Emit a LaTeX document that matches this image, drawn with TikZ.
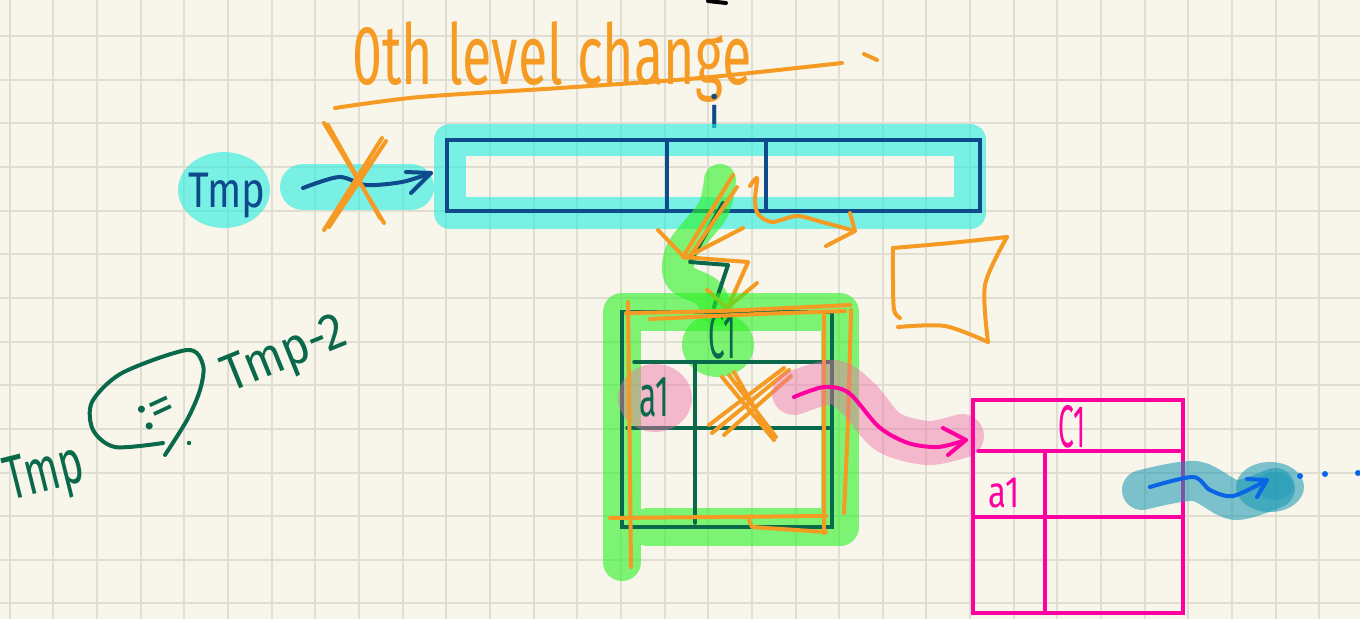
\documentclass[tikz,border=0pt]{standalone}
\usepackage{fontspec}
\setmainfont{Fira Sans}
\usetikzlibrary{arrows.meta}
\definecolor{paper}{RGB}{248,246,235}
\definecolor{gridline}{RGB}{224,222,210}
\definecolor{inkorange}{RGB}{245,155,35}
\definecolor{inknavy}{RGB}{14,74,140}
\definecolor{inkgreen}{RGB}{10,105,75}
\definecolor{inkmagenta}{RGB}{255,0,160}
\definecolor{inkblue}{RGB}{10,100,230}
\definecolor{hlcyan}{RGB}{35,236,224}
\definecolor{hlgreen}{RGB}{43,242,35}
\definecolor{hlpink}{RGB}{240,110,170}
\definecolor{hlteal}{RGB}{20,150,180}
\newcommand\handtext[3]{\fontsize{#1}{#1}\selectfont\scalebox{#2}[1]{#3}}
\tikzset{
  pen/.style={line width=4pt, line cap=round, line join=round},
  tablepen/.style={line width=3.5pt, line cap=round, line join=round},
  marker/.style={line width=#1, line cap=round, line join=round, draw opacity=0.6},
  blob/.style={fill opacity=0.6},
  label/.style={inner sep=0pt, outer sep=0pt},
}
\begin{document}
\begin{tikzpicture}[x=1pt,y=-1pt]
% paper and squared grid
\fill[paper] (0,0) rectangle (1360,619);
\useasboundingbox (0,0) rectangle (1360,619);
\foreach \k in {0,...,30} \draw[gridline, line width=2pt] ({9.8+43.65*\k},0) -- ({9.8+43.65*\k},619);
\foreach \k in {0,...,13} \draw[gridline, line width=2pt] (0,{36+43.65*\k}) -- (1360,{36+43.65*\k});

% ---------- heading ----------
\draw[pen, black] (708,1) -- (726,3);
\node[label, anchor=base west, text=inkorange] (title) at (352,84) {\handtext{84}{0.64}{0th level change}};
\draw[pen, inkorange] plot[smooth] coordinates {(335,108) (420,97) (560,88) (700,78) (842,63)};
\draw[pen, inkorange] (864,54) -- (877,60);
\node[label, anchor=base, text=inknavy] (idx) at (715,128) {\handtext{44}{1}{i}};

% ---------- top array ----------
\draw[marker=32pt, hlcyan] (450,140) -- (970,140) -- (970,213) -- (450,213) -- cycle;
\fill[hlcyan, blob] (224,190) ellipse [x radius=46, y radius=38];
\draw[marker=46pt, hlcyan] (303,187) -- (411,187);
\node[label, anchor=north west, draw=inknavy, line width=4pt, minimum width=533pt, minimum height=71pt] (arr) at (447,140) {};
\draw[line width=4pt, inknavy] (667,140) -- (667,211);
\draw[line width=4pt, inknavy] (766,140) -- (766,211);
\node[label, anchor=base west, text=inknavy] (tmp) at (188,207) {\handtext{50}{0.8}{Tmp}};
\coordinate (tmptip) at (431,173);
\draw[pen, inknavy] plot[smooth] coordinates {(303,188) (339,177) (366,185) (402,182) (431,173)};
\draw[pen, inknavy] (406,172) -- (tmptip) -- (411,193);
% crossed-out pointer
\draw[pen, inkorange] (324,123) -- (384,223) (328,125) -- (380,218);
\draw[pen, inkorange] (382,138) -- (324,230) (386,141) -- (329,227);

% ---------- link from cell i down to the record ----------
\draw[marker=32pt, hlgreen] plot[smooth] coordinates {(720,180) (713,210) (682,250) (680,277) (707,292) (717,310)};
\draw[pen, inkgreen] (723,203) -- (690,262) -- (728,265) -- (714,307);
\draw[pen, inkorange] (733,175) -- (683,257) -- (748,262) -- (728,307);
\draw[pen, inkorange] (737,187) -- (690,256);
\draw[pen, inkorange] (658,230) -- (685,258) -- (743,228);
\draw[pen, inkorange] (757,283) -- (727,308) -- (707,290);
% redirected pointer to a fresh box
\coordinate (newtip) at (855,231);
\draw[pen, inkorange] plot[smooth] coordinates {(750,186) (757,178) (755,200) (758,214) (772,222) (797,216) (822,222) (855,231)};
\draw[pen, inkorange] (850,213) -- (newtip) -- (826,246);
\draw[pen, inkorange] plot[smooth] coordinates {(900,318) (894,310) (893,280) (893,248)};
\draw[pen, inkorange] plot[smooth] coordinates {(893,248) (950,243) (1007,237)};
\draw[pen, inkorange] plot[smooth] coordinates {(1007,237) (985,285) (988,342)};
\draw[pen, inkorange] plot[smooth] coordinates {(988,342) (945,326) (898,327)};

% ---------- green record ----------
\draw[marker=38pt, hlgreen] (622,562) -- (622,312) -- (840,312) -- (840,527) -- (648,527);
\fill[hlgreen, blob] (718,345) ellipse [x radius=36, y radius=32];
\node[label, anchor=north west, draw=inkgreen, line width=3.5pt, minimum width=210pt, minimum height=215pt] (rec) at (622,312) {};
\draw[tablepen, inkgreen] (634,362) -- (829,362);
\draw[tablepen, inkgreen] (627,428) -- (829,428);
\draw[tablepen, inkgreen] (695,363) -- (695,523);
\node[label, anchor=base, text=inkgreen] (recC) at (722,358) {\handtext{66}{0.45}{C1}};
\fill[hlpink, fill opacity=0.45] (655,398) ellipse [x radius=37, y radius=34];
\node[label, anchor=base, text=inkgreen] (recA) at (654,416) {\handtext{58}{0.55}{a1}};
% orange trace around the record
\draw[pen, inkorange] (628,302) -- (631,567);
\draw[pen, inkorange] plot[smooth] coordinates {(626,313) (720,311) (850,305)};
\draw[pen, inkorange] plot[smooth] coordinates {(650,319) (760,314) (845,311)};
\draw[pen, inkorange] (824,313) -- (824,533);
\draw[pen, inkorange] plot[smooth] coordinates {(851,310) (848,420) (844,513)};
\draw[pen, inkorange] (610,518) -- (826,516);
\draw[pen, inkorange] (749,520) -- (752,527) -- (826,532);
% crossed-out cell
\draw[pen, inkorange] (722,377) -- (774,440) (729,375) -- (776,437) (734,372) -- (769,433);
\draw[pen, inkorange] (712,433) -- (789,370) (724,435) -- (791,376) (709,425) -- (784,368);

% ---------- copied record ----------
\draw[marker=44pt, hlpink, draw opacity=0.45] plot[smooth] coordinates {(794,393) (834,382) (860,400) (888,432) (928,443) (962,436)};
\coordinate (copytip) at (966,440);
\draw[pen, inkmagenta] plot[smooth] coordinates {(794,397) (824,387) (849,393) (879,427) (908,443) (938,447) (966,440)};
\draw[pen, inkmagenta] (943,428) -- (copytip) -- (948,455);
\node[label, anchor=north west, draw=inkmagenta, line width=3.5pt, minimum width=210pt, minimum height=213pt] (copy) at (973,400) {};
\draw[tablepen, inkmagenta] (978,451) -- (1180,451);
\draw[tablepen, inkmagenta] (973,517) -- (1183,517);
\draw[tablepen, inkmagenta] (1045,453) -- (1045,613);
\node[label, anchor=base, text=inkmagenta] (copyC) at (1072,447) {\handtext{60}{0.47}{C1}};
\node[label, anchor=base, text=inkmagenta] (copyA) at (1004,507) {\handtext{44}{0.75}{a1}};

% ---------- onward link ----------
\draw[marker=40pt, hlteal, draw opacity=0.55] plot[smooth] coordinates {(1142,490) (1195,481) (1235,500) (1275,488)};
\fill[hlteal, fill opacity=0.55] (1270,487) ellipse [x radius=34, y radius=25];
\fill[hlteal, fill opacity=0.35] (1275,486) ellipse [x radius=18, y radius=14];
\coordinate (nexttip) at (1267,480);
\draw[pen, inkblue] plot[smooth] coordinates {(1150,487) (1193,477) (1210,490) (1233,496) (1267,480)};
\draw[pen, inkblue] (1247,479) -- (nexttip) -- (1257,497);
\fill[inkblue] (1300,476) circle (3) (1325,474) circle (3) (1358,473) circle (3);

% ---------- side note ----------
\node[label, anchor=base west, text=inkgreen, rotate=14] (lhs) at (10,500) {\handtext{62}{0.66}{Tmp}};
\draw[pen, inkgreen] plot[smooth] coordinates {(163,443) (115,447) (93,430) (92,402) (122,373) (187,350) (203,365) (200,390) (187,420) (165,455)};
\node[label, text=inkgreen, rotate=25] (assign) at (157,413) {\handtext{50}{1}{:=}};
\fill[inkgreen] (189,443) circle (2.2);
\node[label, anchor=base west, text=inkgreen, rotate=22] (rhs) at (230,392) {\handtext{52}{0.9}{Tmp-2}};
\end{tikzpicture}
\end{document}
